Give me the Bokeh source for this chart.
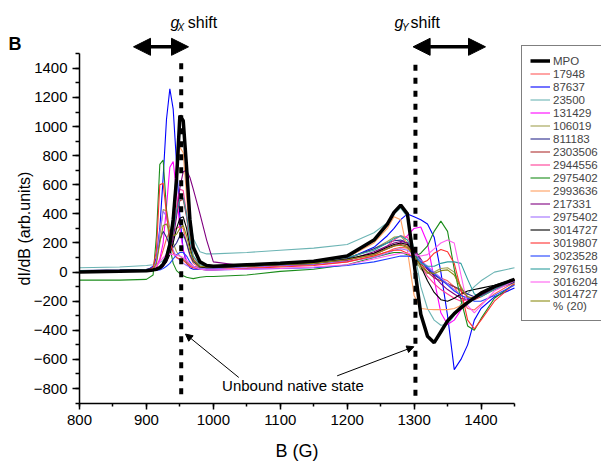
from bokeh.plotting import figure
from bokeh.models import (Legend, LegendItem, Label, Arrow, NormalHead,
                          SingleIntervalTicker, Range1d)
from bokeh.embed import file_html
from bokeh.resources import INLINE

# Magnetic field grid (G)
B = [800, 860, 900, 910, 915, 920, 925, 930, 935, 940, 945, 950, 955, 960, 965,
     970, 980, 990, 1000, 1050, 1100, 1150, 1200, 1240, 1260, 1270, 1280, 1290,
     1300, 1310, 1320, 1330, 1340, 1350, 1360, 1370, 1380, 1390, 1400, 1420, 1450]

s_mpo = [0, 5, 10, 15, 20, 30, 55, 100, 190, 360, 640, 1075, 1040, 720, 360, 170, 70, 45, 40, 50,
         60, 75, 110, 220, 330, 410, 460, 400, 60, -290, -440, -485, -410, -335, -285, -245, -210,
         -177, -145, -100, -50]
s_17948 = [0, 5, 10, 15, 30, 80, 150, 230, 280, 290, 300, 315, 300, 200, 110, 60, 30, 25, 25, 30,
           40, 50, 70, 110, 140, 160, 170, 165, 130, 70, 20, -20, -40, -60, -100, -180, -250, -260,
           -220, -150, -70]
s_87637 = [0, 5, 10, 40, 100, 300, 650, 1050, 1260, 1120, 750, 380, 150, 60, 30, 20, 20, 20, 25, 40,
           50, 60, 90, 170, 250, 300, 360, 400, 380, 360, 330, 240, 0, -300, -670, -600, -500, -330,
           -250, -170, -110]
s_23500 = [30, 35, 45, 50, 55, 65, 80, 120, 220, 420, 720, 950, 960, 700, 400, 230, 140, 125, 125, 135,
           150, 165, 190, 270, 340, 400, 440, 380, 150, -100, -250, -330, -365, -360, -300, -220, -150,
           -100, -60, 0, 30]
s_131429 = [0, 5, 10, 20, 40, 90, 200, 450, 720, 760, 550, 300, 150, 80, 50, 40, 30, 30, 30, 40,
            45, 55, 80, 130, 160, 180, 200, 250, 300, 310, 200, -50, -280, -360, -330, -260, -210,
            -180, -150, -110, -60]
s_106019 = [0, 5, 10, 30, 80, 250, 430, 420, 300, 200, 140, 110, 90, 70, 50, 40, 30, 30, 30, 40,
            50, 60, 90, 160, 210, 240, 245, 200, 100, 20, -10, 0, 25, 30, 0, -100, -180, -190,
            -160, -110, -60]
s_811183 = [10, 15, 20, 30, 80, 220, 280, 240, 180, 170, 200, 250, 260, 200, 120, 70, 40, 35, 35, 45,
            55, 65, 95, 160, 200, 215, 220, 200, 150, 80, 20, -20, -50, -80, -100, -120, -150, -170,
            -160, -120, -70]
s_2303506 = [0, 5, 10, 12, 15, 20, 40, 80, 150, 270, 400, 490, 500, 380, 200, 90, 40, 30, 30, 40,
             50, 60, 85, 120, 160, 180, 190, 180, 130, 60, 0, -40, -60, -80, -100, -130, -170, -190,
             -170, -120, -60]
s_2944556 = [0, 5, 10, 12, 15, 20, 40, 80, 150, 280, 450, 570, 560, 400, 200, 90, 40, 30, 30, 40,
             50, 60, 85, 130, 180, 220, 250, 240, 150, 50, -30, -80, -120, -150, -180, -200, -190,
             -170, -150, -100, -50]
s_2975402a = [-55, -55, -50, -20, 250, 740, 770, 430, 170, 60, 10, -10, -25, -35, -40, -45, -35, -30,
              -30, -20, 5, 20, 50, 100, 125, 135, 135, 120, 105, 130, 180, 280, 350, 280, 20, -190,
              -370, -400, -320, -180, -80]
s_2993636 = [5, 5, 10, 15, 20, 30, 50, 90, 170, 350, 650, 860, 820, 520, 250, 110, 50, 40, 40, 50,
             55, 65, 100, 200, 300, 380, 360, 150, -160, -250, -255, -258, -258, -258, -250, -230,
             -200, -170, -140, -100, -55]
s_217331 = [0, 5, 10, 12, 15, 20, 40, 70, 130, 230, 380, 580, 690, 700, 650, 570, 400, 220, 70, 40,
            45, 55, 80, 140, 180, 200, 210, 200, 160, 90, 20, -30, -80, -120, -150, -180, -190, -180,
            -160, -110, -60]
s_2975402b = [0, 5, 10, 20, 80, 280, 420, 380, 250, 150, 100, 80, 60, 45, 35, 30, 25, 25, 25, 35,
              45, 55, 75, 100, 130, 150, 160, 150, 120, 80, 40, 0, -40, -80, -120, -160, -180, -170,
              -150, -110, -60]
s_3014727a = [0, 5, 10, 12, 15, 20, 40, 70, 120, 200, 300, 370, 380, 300, 170, 80, 35, 30, 30, 40,
              50, 60, 90, 130, 170, 190, 200, 190, 140, 40, -60, -140, -190, -200, -180, -150, -130,
              -120, -110, -90, -50]
s_3019807 = [0, 5, 10, 30, 150, 600, 610, 400, 220, 130, 100, 90, 80, 60, 40, 30, 20, 15, 15, 25,
             35, 45, 70, 110, 140, 150, 150, 130, 90, 60, 80, 130, 155, 140, 60, -120, -330, -390,
             -330, -200, -80]
s_3023528 = [0, 5, 10, 12, 14, 15, 25, 40, 60, 90, 120, 135, 135, 110, 70, 40, 20, 15, 15, 20,
             25, 30, 45, 70, 90, 100, 110, 110, 100, 70, 30, -10, -50, -90, -130, -160, -180, -200,
             -200, -160, -90]
s_2976159 = [10, 10, 15, 20, 25, 30, 50, 90, 160, 280, 420, 500, 510, 400, 220, 110, 50, 40, 40, 50,
             60, 70, 100, 150, 200, 230, 250, 220, 130, 60, 40, 40, 60, 70, 70, 60, -50, -150, -170,
             -120, -60]
s_3016204 = [0, 5, 10, 20, 40, 70, 100, 120, 125, 120, 115, 110, 100, 80, 60, 40, 20, 15, 15, 20,
             25, 35, 50, 90, 110, 120, 130, 130, 120, 110, 120, 160, 200, 220, 200, -20, -230, -280,
             -230, -130, -60]
s_3014727b = [0, 5, 10, 20, 60, 200, 320, 330, 280, 250, 260, 300, 320, 250, 150, 80, 40, 35, 35, 40,
              50, 60, 85, 120, 160, 180, 185, 170, 110, 40, 0, -10, 10, 15, -20, -110, -170, -180,
              -150, -100, -55]

labels = ["MPO", "17948", "87637", "23500", "131429", "106019", "811183", "2303506",
          "2944556", "2975402", "2993636", "217331", "2975402", "3014727", "3019807",
          "3023528", "2976159", "3016204", "3014727\n% (20)"]
series = [s_mpo, s_17948, s_87637, s_23500, s_131429, s_106019, s_811183, s_2303506,
          s_2944556, s_2975402a, s_2993636, s_217331, s_2975402b, s_3014727a, s_3019807,
          s_3023528, s_2976159, s_3016204, s_3014727b]
colors = ["#000000", "#ff5a5a", "#0000ff", "#6cb4b4", "#ff00ff", "#a0a050", "#2b2b8c", "#b03030",
          "#ff3c96", "#1a8c1a", "#ff9f5f", "#800080", "#a070ff", "#000000", "#ff3030",
          "#2040ff", "#2e9e9e", "#ff60f0", "#8c8c14"]

# reference markers (G)
x_gx = 952
x_gy = 1302

# axis extents
X_MIN, X_MAX = 800, 1450
Y_MIN, Y_MAX = -905, 1500

FONT = "Liberation Sans"
W, H = 601, 463
# frame covers the whole canvas; axes are drawn at fixed locations
PX_PER_G = 0.6692
PX_PER_U = 0.14553
AX_LEFT, AX_TOP = 79, 53.3

x_lo = X_MIN - AX_LEFT / PX_PER_G
x_hi = x_lo + W / PX_PER_G
y_hi = Y_MAX + AX_TOP / PX_PER_U
y_lo = y_hi - H / PX_PER_U

p = figure(width=W, height=H, output_backend="svg", toolbar_location=None,
           x_range=Range1d(x_lo, x_hi), y_range=Range1d(y_lo, y_hi),
           min_border=0, min_border_left=0, min_border_right=0,
           min_border_top=0, min_border_bottom=0)
p.outline_line_color = None
p.xgrid.visible = False
p.ygrid.visible = False
p.background_fill_color = "white"
p.border_fill_color = "white"

p.xaxis.ticker = SingleIntervalTicker(interval=100, num_minor_ticks=2)
p.yaxis.ticker = SingleIntervalTicker(interval=200, num_minor_ticks=2)
p.xaxis.fixed_location = Y_MIN
p.yaxis.fixed_location = X_MIN
p.xaxis.bounds = (X_MIN, X_MAX)
p.yaxis.bounds = (Y_MIN, Y_MAX)
for ax in (p.xaxis, p.yaxis):
    ax.axis_line_width = 1.5
    ax.axis_line_color = "black"
    ax.major_tick_line_width = 1.5
    ax.minor_tick_line_width = 1.5
    ax.major_tick_line_color = "black"
    ax.minor_tick_line_color = "black"
    ax.major_tick_in = 0
    ax.minor_tick_in = 0
    ax.major_label_text_font = FONT
    ax.major_label_text_font_size = "15px"
    ax.major_label_text_color = "black"
    ax.axis_label_text_font = FONT
    ax.axis_label_text_font_style = "normal"
    ax.axis_label_text_color = "black"
p.xaxis.major_tick_out = 6
p.xaxis.minor_tick_out = 3
p.yaxis.major_tick_out = 7
p.yaxis.minor_tick_out = 4
p.xaxis.major_label_standoff = 5
p.yaxis.major_label_standoff = 5
p.xaxis.axis_label = "B (G)"
p.xaxis.axis_label_text_font_size = "18px"
p.xaxis.axis_label_standoff = 13
p.yaxis.axis_label = "dI/dB (arb.units)"
p.yaxis.axis_label_text_font_size = "16px"
p.yaxis.axis_label_standoff = -2

# curves: thin ones first, MPO on top
renderers = [None] * len(series)
for i in range(1, len(series)):
    renderers[i] = p.line(B, series[i], line_color=colors[i], line_width=1.1)
renderers[0] = p.line(B, series[0], line_color=colors[0], line_width=3.5)

# dotted reference lines
p.segment(x0=[x_gx, x_gy], y0=[-840, -850], x1=[x_gx, x_gy], y1=[1435, 1430],
          line_color="black", line_width=4, line_dash="6 7", line_cap="butt")

legend = Legend(items=[LegendItem(label=labels[i], renderers=[renderers[i]]) for i in range(len(series))],
                location=(521, 142), label_text_font=FONT, label_text_font_size="11.5px",
                label_height=13, glyph_height=13, glyph_width=20, label_standoff=3,
                spacing=0, padding=8, margin=0, border_line_color="black", border_line_width=1,
                background_fill_color="white", background_fill_alpha=1.0)
p.add_layout(legend)

# double arrows above the plot
for xs, xe in ((880.7, 962.9), (1298.5, 1406.7)):
    p.add_layout(Arrow(x_start=xs, y_start=1548, x_end=xe, y_end=1548, line_width=3.5,
                       start=NormalHead(size=17, fill_color="black", line_color="black"),
                       end=NormalHead(size=17, fill_color="black", line_color="black")))

def lab(x, y, t, size, style="normal", align="left", baseline="alphabetic"):
    p.add_layout(Label(x=x, y=y, text=t, text_font=FONT, text_font_size=size,
                       text_font_style=style, text_align=align, text_baseline=baseline,
                       text_color="black"))

# g-shift labels
lab(936, 1715, "g", "16px", "italic")
lab(946.4, 1681, "X", "10px", "italic")
lab(961.8, 1715, "shift", "16px")
lab(1270.7, 1715, "g", "16px", "italic")
lab(1281.9, 1681, "Y", "10px", "italic")
lab(1294.6, 1715, "shift", "16px")
# panel letter
lab(694, 1567, "B", "18px", "bold")

# unbound native state
lab(1119, -781, "Unbound native state", "15px", align="center", baseline="middle")
for xs, ys, xe, ye in ((1038, -724, 958.4, -426), (1185, -713, 1299.7, -513)):
    p.add_layout(Arrow(x_start=xs, y_start=ys, x_end=xe, y_end=ye, line_width=1,
                       end=NormalHead(size=7, fill_color="black", line_color="black")))

open("out.html", "w").write(file_html(p, INLINE))
